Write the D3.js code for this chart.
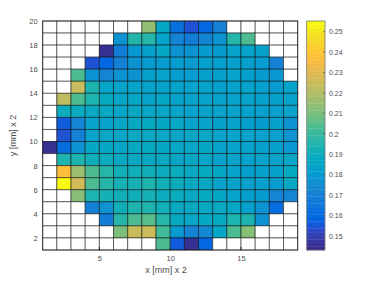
<!DOCTYPE html>
<html><head><meta charset="utf-8">
<script src="https://cdn.jsdelivr.net/npm/d3@7"></script>
<style>html,body{margin:0;padding:0;background:#fff;}svg{display:block;font-family:"Liberation Sans",Arial,sans-serif;}</style>
</head><body>
<svg id="chart" width="374" height="281"></svg>
<script>
// ---- data ----
const N = null;
// cell columns start at x = 1..18 (each 1 wide), rows start at y = yLevels[k]
const xStarts = [1,2,3,4,5,6,7,8,9,10,11,12,13,14,15,16,17,18];
const yLevels = [19,18,17,16,15,14,13,12,11,10,9,8,7,6,5,4,3,2,1];
const cellValues = [
  [N,N,N,N,N,N,N,.214,.186,.163,.155,.160,.171,N,N,N,N,N],
  [N,N,N,N,N,.178,.196,.196,.185,.172,.168,.172,.178,.197,.204,N,N,N],
  [N,N,N,N,.146,.168,.179,.182,.186,.178,.177,.180,.180,.185,.185,.183,N,N],
  [N,N,N,.155,.160,.171,.178,.180,.181,.181,.181,.182,.183,.182,.183,.180,.171,N],
  [N,N,.204,.177,.172,.177,.178,.182,.184,.181,.181,.182,.183,.184,.183,.181,.179,N],
  [N,N,.225,.195,.185,.184,.184,.184,.185,.184,.184,.184,.183,.184,.184,.182,.181,.185],
  [N,.222,.204,.194,.188,.186,.186,.185,.186,.185,.185,.185,.184,.185,.184,.183,.183,.185],
  [N,.190,.190,.188,.188,.186,.187,.186,.186,.185,.185,.185,.184,.184,.184,.183,.183,.185],
  [N,.157,.172,.184,.185,.186,.187,.187,.186,.186,.185,.185,.183,.184,.183,.181,.182,.178],
  [N,.155,.171,.184,.186,.186,.188,.187,.186,.186,.186,.186,.185,.185,.185,.182,.182,.178],
  [.146,.161,.178,.186,.186,.186,.188,.188,.186,.186,.186,.186,.185,.185,.185,.183,.183,.179],
  [N,.195,.195,.192,.190,.188,.188,.188,.188,.186,.186,.186,.185,.185,.185,.184,.184,.186],
  [N,.236,.215,.203,.197,.192,.192,.192,.190,.189,.187,.187,.186,.185,.183,.183,.183,.188],
  [N,.255,.226,.203,.197,.193,.193,.195,.191,.189,.187,.187,.185,.185,.183,.182,.181,.187],
  [N,N,.212,.195,.193,.191,.192,.193,.190,.189,.187,.187,.186,.185,.183,.181,.172,.172],
  [N,N,N,.170,.178,.192,.195,.195,.191,.188,.187,.187,.187,.186,.183,.178,.161,N],
  [N,N,N,N,.168,.197,.204,.205,.197,.187,.186,.186,.187,.195,.195,.178,N,N],
  [N,N,N,N,N,.210,.224,.224,.202,.181,.172,.174,.186,.204,.212,N,N,N],
  [N,N,N,N,N,N,N,N,.203,.156,.146,.159,N,N,N,N,N,N]
];
const xTicks = [5,10,15];
const yTicks = [2,4,6,8,10,12,14,16,18,20];
const cbTicks = [0.15,0.16,0.17,0.18,0.19,0.2,0.21,0.22,0.23,0.24,0.25];
const cLimits = [0.1431, 0.2552];
const xLabel = "x [mm] x 2";
const yLabel = "y [mm] x 2";

// parula colormap (64 entries)
const parula = [
[0.2081,0.1663,0.5292],[0.2116,0.1898,0.5777],[0.2123,0.2138,0.6270],[0.2081,0.2386,0.6771],
[0.1959,0.2645,0.7279],[0.1707,0.2919,0.7792],[0.1253,0.3242,0.8303],[0.0591,0.3598,0.8683],
[0.0117,0.3875,0.8820],[0.0060,0.4086,0.8828],[0.0165,0.4266,0.8786],[0.0329,0.4430,0.8720],
[0.0498,0.4586,0.8641],[0.0629,0.4737,0.8554],[0.0723,0.4887,0.8467],[0.0779,0.5040,0.8384],
[0.0793,0.5200,0.8312],[0.0749,0.5375,0.8263],[0.0641,0.5570,0.8240],[0.0488,0.5772,0.8228],
[0.0343,0.5966,0.8199],[0.0265,0.6137,0.8135],[0.0239,0.6287,0.8038],[0.0231,0.6418,0.7913],
[0.0228,0.6535,0.7768],[0.0267,0.6642,0.7607],[0.0384,0.6743,0.7436],[0.0590,0.6838,0.7254],
[0.0843,0.6928,0.7062],[0.1133,0.7015,0.6859],[0.1453,0.7098,0.6646],[0.1801,0.7177,0.6424],
[0.2178,0.7250,0.6193],[0.2586,0.7317,0.5954],[0.3022,0.7376,0.5712],[0.3482,0.7424,0.5473],
[0.3953,0.7459,0.5244],[0.4420,0.7481,0.5033],[0.4871,0.7491,0.4840],[0.5300,0.7491,0.4661],
[0.5709,0.7485,0.4494],[0.6099,0.7473,0.4337],[0.6473,0.7456,0.4188],[0.6834,0.7435,0.4044],
[0.7184,0.7411,0.3905],[0.7525,0.7384,0.3768],[0.7858,0.7356,0.3633],[0.8185,0.7327,0.3498],
[0.8507,0.7299,0.3360],[0.8824,0.7274,0.3217],[0.9139,0.7258,0.3063],[0.9450,0.7261,0.2886],
[0.9739,0.7314,0.2666],[0.9938,0.7455,0.2403],[0.9990,0.7653,0.2164],[0.9955,0.7861,0.1967],
[0.9880,0.8066,0.1794],[0.9789,0.8271,0.1633],[0.9697,0.8481,0.1475],[0.9626,0.8705,0.1309],
[0.9589,0.8949,0.1132],[0.9598,0.9218,0.0948],[0.9661,0.9514,0.0755],[0.9763,0.9831,0.0538]
].map(c => d3.rgb(c[0]*255, c[1]*255, c[2]*255).formatHex());

const colorIdx = d3.scaleQuantize().domain(cLimits).range(d3.range(64));
const color = v => parula[colorIdx(Math.max(cLimits[0], Math.min(cLimits[1], v)))];

// ---- layout ----
const svg = d3.select("#chart");
const L = 42.7, R = 297.7, T = 21, B = 250;
const x = d3.scaleLinear().domain([1,19]).range([L,R]);
const y = d3.scaleLinear().domain([1,20]).range([B,T]);

const cells = [];
yLevels.forEach((yl, r) => xStarts.forEach((xs, c) => cells.push({x: xs, y: yl, v: cellValues[r][c]})));

svg.append("g").selectAll("rect").data(cells).join("rect")
  .attr("x", d => x(d.x)).attr("y", d => y(d.y + 1))
  .attr("width", d => x(d.x + 1) - x(d.x)).attr("height", d => y(d.y) - y(d.y + 1))
  .attr("fill", d => d.v == null ? "#fff" : color(d.v))
  .attr("stroke", "#000").attr("stroke-opacity", 0.5).attr("stroke-width", 1);

// frame
svg.append("rect").attr("x", L).attr("y", T).attr("width", R - L).attr("height", B - T)
  .attr("fill", "none").attr("stroke", "#262626").attr("stroke-width", 0.8);

// axes
const tickCol = "#262626";
const xAxis = d3.axisBottom(x).tickValues(xTicks).tickSize(0).tickPadding(6).tickFormat(d3.format("d"));
const gx = svg.append("g").attr("transform", `translate(0,${B})`).call(xAxis);
gx.select(".domain").remove();
gx.selectAll("text").attr("font-size", 7.5).attr("fill", "#4d4d4d").attr("font-family", "Liberation Sans, Arial, sans-serif");
svg.append("g").selectAll("line").data(xTicks).join("line")
  .attr("x1", d => x(d)).attr("x2", d => x(d)).attr("y1", B).attr("y2", B - 3).attr("stroke", tickCol);

const yAxis = d3.axisLeft(y).tickValues(yTicks).tickSize(0).tickPadding(5).tickFormat(d3.format("d"));
const gy = svg.append("g").attr("transform", `translate(${L},0)`).call(yAxis);
gy.select(".domain").remove();
gy.selectAll("text").attr("font-size", 7.5).attr("fill", "#4d4d4d").attr("font-family", "Liberation Sans, Arial, sans-serif");

svg.append("text").attr("x", 166).attr("y", 273).attr("text-anchor", "middle")
  .attr("font-size", 9).attr("fill", "#4d4d4d").text(xLabel);
svg.append("text").attr("transform", `translate(16,${(T + B) / 2}) rotate(-90)`).attr("text-anchor", "middle")
  .attr("font-size", 9).attr("fill", "#4d4d4d").text(yLabel);

// colorbar
const cbL = 306.7, cbR = 325, cbT = 21, cbB = 250;
const cy = d3.scaleLinear().domain(cLimits).range([cbB, cbT]);
svg.append("g").selectAll("rect").data(d3.range(64)).join("rect")
  .attr("x", cbL).attr("width", cbR - cbL)
  .attr("y", i => cy(cLimits[0] + (i + 1) * (cLimits[1] - cLimits[0]) / 64))
  .attr("height", (cbB - cbT) / 64 + 0.3)
  .attr("fill", i => parula[i]);
svg.append("rect").attr("x", cbL).attr("y", cbT).attr("width", cbR - cbL).attr("height", cbB - cbT)
  .attr("fill", "none").attr("stroke", "#777").attr("stroke-width", 0.8);
const cbAxis = d3.axisRight(cy).tickValues(cbTicks).tickSize(0).tickPadding(4).tickFormat(d => String(+d.toFixed(2)));
const gc = svg.append("g").attr("transform", `translate(${cbR},0)`).call(cbAxis);
gc.select(".domain").remove();
gc.selectAll("text").attr("font-size", 7).attr("fill", "#4d4d4d").attr("font-family", "Liberation Sans, Arial, sans-serif");
svg.append("g").selectAll("line").data(cbTicks).join("line")
  .attr("x1", cbR - 2).attr("x2", cbR).attr("y1", d => cy(d)).attr("y2", d => cy(d))
  .attr("stroke", "#555").attr("stroke-width", 0.7);
</script>
</body></html>
